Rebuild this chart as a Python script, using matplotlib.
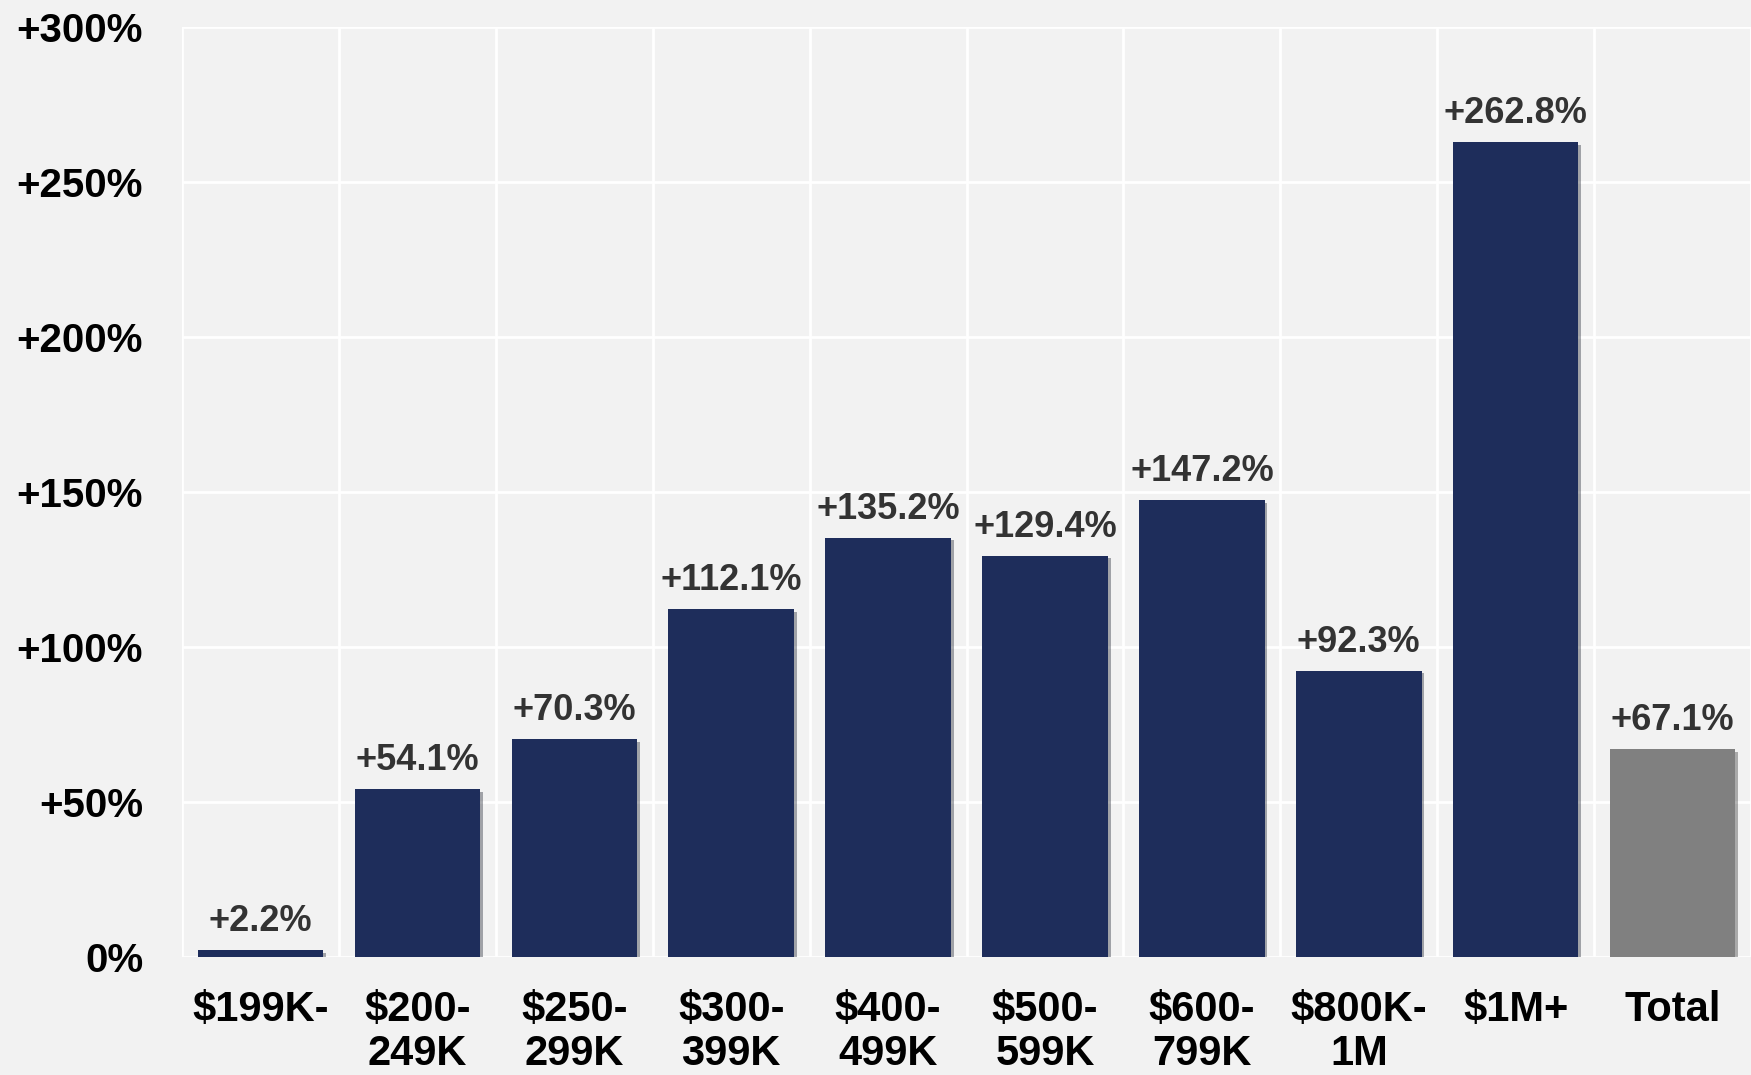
import matplotlib.pyplot as plt
import matplotlib.patheffects as pe
import numpy as np

categories = ["$199K-", "$200-\n249K", "$250-\n299K", "$300-\n399K", "$400-\n499K",
              "$500-\n599K", "$600-\n799K", "$800K-\n1M", "$1M+", "Total"]
values = [2.2, 54.1, 70.3, 112.1, 135.2, 129.4, 147.2, 92.3, 262.8, 67.1]
yticks = [0, 50, 100, 150, 200, 250, 300]
ytick_labels = ["0%", "+50%", "+100%", "+150%", "+200%", "+250%", "+300%"]

navy = '#1e2d5b'
grey = '#808080'
bg = '#f2f2f2'

plt.rcParams['font.family'] = ['Liberation Sans', 'DejaVu Sans']

fig = plt.figure(figsize=(17.51, 10.75), dpi=100, facecolor=bg)
ax = fig.add_axes([0.104, 0.11, 0.896, 0.865])
ax.set_facecolor(bg)

x = np.arange(len(categories))
colors = [navy] * (len(categories) - 1) + [grey]
bars = ax.bar(x, values, width=0.8, color=colors, zorder=3)
for b in bars:
    b.set_path_effects([pe.SimplePatchShadow(offset=(2, -2), alpha=0.35), pe.Normal()])

for xi, v in zip(x, values):
    ax.annotate(f"+{v:.1f}%", (xi, v), xytext=(0, 8), textcoords='offset points',
                ha='center', va='bottom', fontsize=26, fontweight='bold', color='#333333')

ax.set_xlim(-0.5, len(categories) - 0.5)
ax.set_ylim(0, 300)
ax.set_yticks(yticks)
ax.set_yticklabels(ytick_labels, fontsize=29, fontweight='bold')
ax.set_xticks(x)
ax.set_xticklabels(categories, fontsize=30, fontweight='bold', linespacing=1.12)
ax.set_xticks(np.arange(-0.5, len(categories)), minor=True)
ax.tick_params(axis='both', which='both', length=0)
ax.tick_params(axis='x', pad=24)
ax.tick_params(axis='y', pad=28)

ax.grid(axis='y', which='major', color='white', linewidth=2, zorder=0)
ax.grid(axis='x', which='minor', color='white', linewidth=2, zorder=0)
ax.grid(axis='x', which='major', visible=False)
ax.set_axisbelow(True)
for s in ax.spines.values():
    s.set_visible(False)

fig.savefig('out.png', dpi=100, facecolor=bg)
